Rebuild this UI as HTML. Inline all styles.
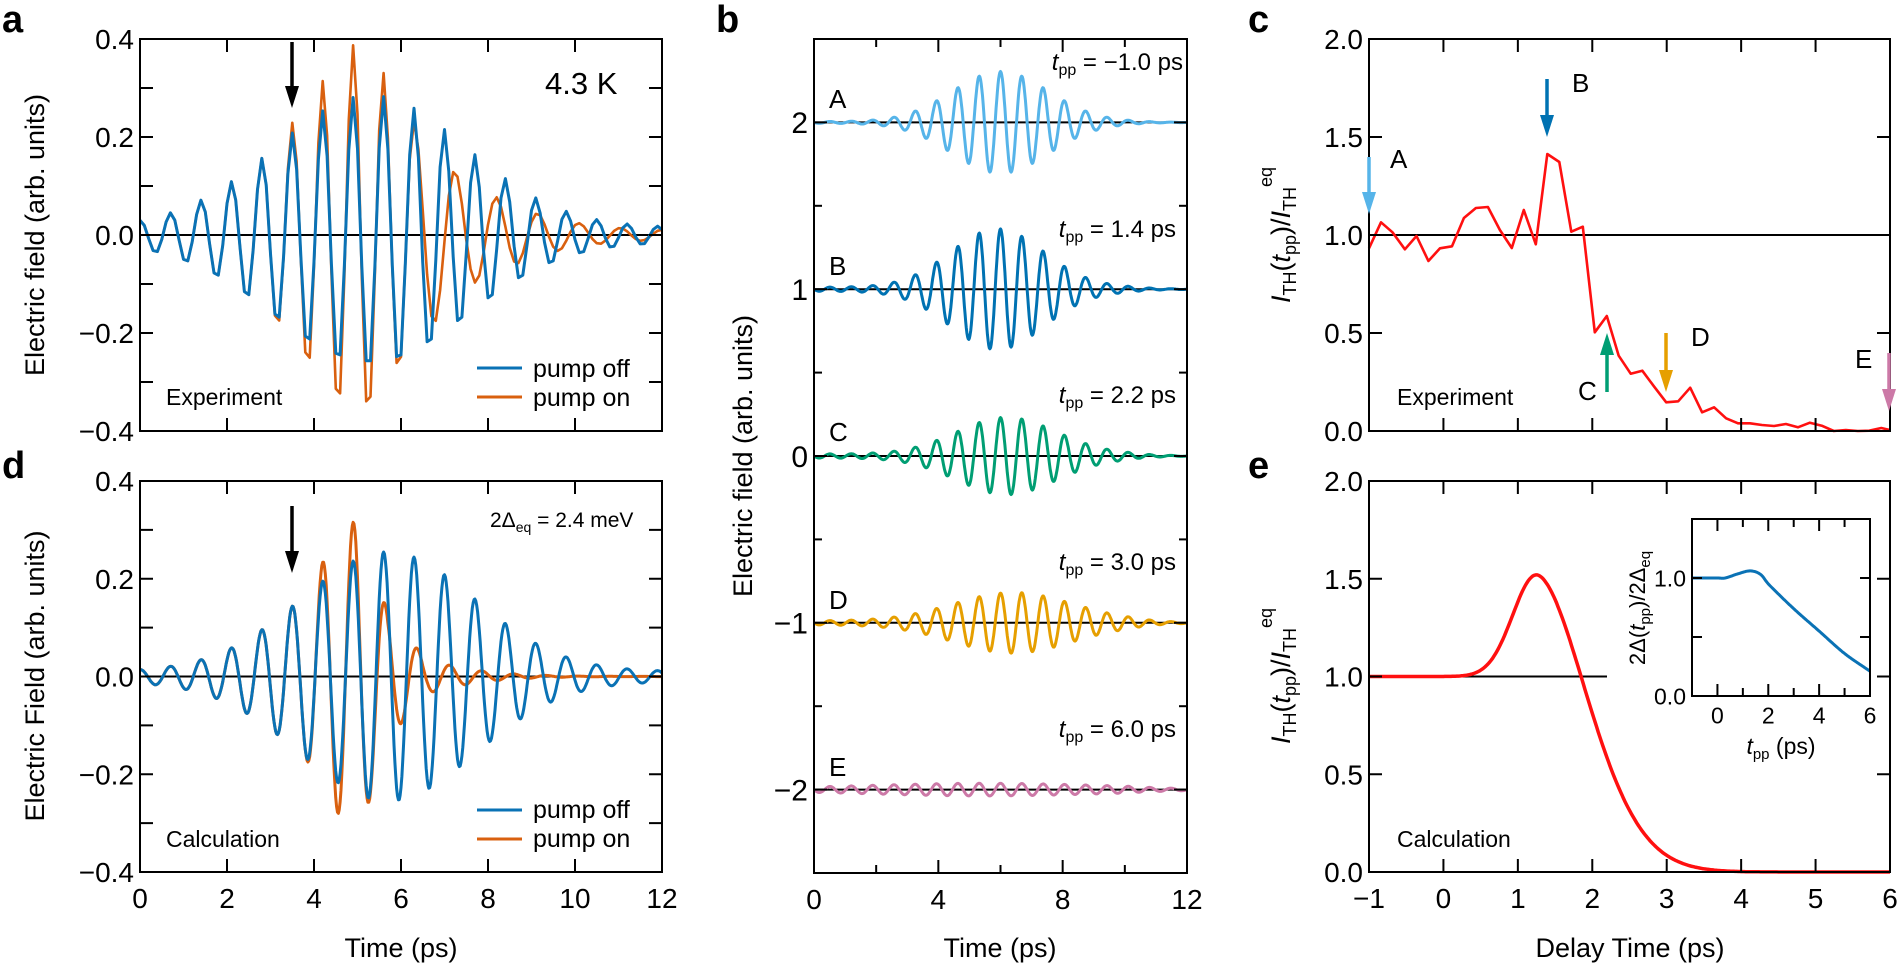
<!DOCTYPE html>
<html><head><meta charset="utf-8">
<style>
html,body{margin:0;padding:0;background:#fff;}
svg{display:block;font-family:"Liberation Sans",Arial,sans-serif;}
</style></head>
<body>
<svg id="s" width="1898" height="967" viewBox="0 0 1898 967" xmlns="http://www.w3.org/2000/svg">
<rect width="1898" height="967" fill="#fff"/>
<g font-weight="bold" font-size="38">
<text x="2" y="32">a</text><text x="716" y="32">b</text><text x="1248" y="32">c</text>
<text x="2" y="478">d</text><text x="1248" y="478">e</text>
</g>
<g font-size="27" text-anchor="middle">
<text transform="translate(44,235) rotate(-90)">Electric field (arb. units)</text>
<text transform="translate(44,676) rotate(-90)">Electric Field (arb. units)</text>
<text transform="translate(752,456) rotate(-90)">Electric field (arb. units)</text>
<text x="401" y="957">Time (ps)</text>
<text x="1000" y="957">Time (ps)</text>
<text x="1630" y="957">Delay Time (ps)</text>
<text transform="translate(1290,235) rotate(-90)"><tspan font-style="italic">I</tspan><tspan font-size="18" dy="6">TH</tspan><tspan dy="-6">(</tspan><tspan font-style="italic">t</tspan><tspan font-size="18" dy="6">pp</tspan><tspan dy="-6">)/</tspan><tspan font-style="italic">I</tspan><tspan font-size="18" dy="6">TH</tspan><tspan font-size="18" dy="-24">eq</tspan></text>
<text transform="translate(1290,676) rotate(-90)"><tspan font-style="italic">I</tspan><tspan font-size="18" dy="6">TH</tspan><tspan dy="-6">(</tspan><tspan font-style="italic">t</tspan><tspan font-size="18" dy="6">pp</tspan><tspan dy="-6">)/</tspan><tspan font-style="italic">I</tspan><tspan font-size="18" dy="6">TH</tspan><tspan font-size="18" dy="-24">eq</tspan></text>
<text transform="translate(1645,608) rotate(-90)" font-size="22">2Δ(<tspan font-style="italic">t</tspan><tspan font-size="15" dy="5">pp</tspan><tspan dy="-5">)/2Δ</tspan><tspan font-size="15" dy="5">eq</tspan></text>
<text x="1781" y="754" font-size="23"><tspan font-style="italic">t</tspan><tspan font-size="15" dy="5">pp</tspan><tspan dy="-5"> (ps)</tspan></text>
</g>
<g font-size="23">
<text x="166" y="405">Experiment</text>
<text x="166" y="847">Calculation</text>
<text x="1397" y="405">Experiment</text>
<text x="1397" y="847">Calculation</text>
<text x="545" y="94" font-size="31">4.3 K</text>
<text x="490" y="527" font-size="21">2Δ<tspan font-size="14" dy="5">eq</tspan><tspan dy="-5"> = 2.4 meV</tspan></text>
<text x="533" y="377" font-size="25">pump off</text>
<text x="533" y="406" font-size="25">pump on</text>
<text x="533" y="818" font-size="25">pump off</text>
<text x="533" y="847" font-size="25">pump on</text>
</g>
<g font-size="26">
<text x="829" y="108">A</text><text x="829" y="275">B</text><text x="829" y="441">C</text>
<text x="829" y="609">D</text><text x="829" y="776">E</text>
<g text-anchor="end" font-size="24">
<text x="1183" y="70"><tspan font-style="italic">t</tspan><tspan font-size="16" dy="5">pp</tspan><tspan dy="-5"> = −1.0 ps</tspan></text>
<text x="1176" y="237"><tspan font-style="italic">t</tspan><tspan font-size="16" dy="5">pp</tspan><tspan dy="-5"> = 1.4 ps</tspan></text>
<text x="1176" y="403"><tspan font-style="italic">t</tspan><tspan font-size="16" dy="5">pp</tspan><tspan dy="-5"> = 2.2 ps</tspan></text>
<text x="1176" y="570"><tspan font-style="italic">t</tspan><tspan font-size="16" dy="5">pp</tspan><tspan dy="-5"> = 3.0 ps</tspan></text>
<text x="1176" y="737"><tspan font-style="italic">t</tspan><tspan font-size="16" dy="5">pp</tspan><tspan dy="-5"> = 6.0 ps</tspan></text>
</g>
<text x="1390" y="168">A</text><text x="1572" y="92">B</text><text x="1578" y="400">C</text>
<text x="1691" y="346">D</text><text x="1855" y="368">E</text>
</g>
<g id="plots"></g>
</svg>
<script>
(function(){
var NS="http://www.w3.org/2000/svg",G=document.getElementById("plots");
function el(t,a,txt){var e=document.createElementNS(NS,t);for(var k in a)e.setAttribute(k,a[k]);if(txt!=null)e.textContent=txt;G.appendChild(e);return e;}
function ax(x0,y0,x1,y1,xa,xb,ya,yb){return{X:function(v){return x0+(v-xa)/(xb-xa)*(x1-x0)},Y:function(v){return y1-(v-ya)/(yb-ya)*(y1-y0)},x0:x0,x1:x1,y0:y0,y1:y1};}
function line(pts,c,w){var d="";for(var i=0;i<pts.length;i++)d+=(i?"L":"M")+pts[i][0].toFixed(1)+" "+pts[i][1].toFixed(1);el("path",{d:d,fill:"none",stroke:c,"stroke-width":w||3,"stroke-linejoin":"round"});}
function curve(A,f,a,b,dt,c,w){var p=[];for(var t=a;t<=b+1e-9;t+=dt)p.push([A.X(t),A.Y(f(t))]);line(p,c,w);}
function frame(A){el("rect",{x:A.x0,y:A.y0,width:A.x1-A.x0,height:A.y1-A.y0,fill:"none",stroke:"#000","stroke-width":2});}
function xt(A,v,len,lab,fs){var x=A.X(v);el("line",{x1:x,x2:x,y1:A.y1,y2:A.y1-len,stroke:"#000","stroke-width":2});el("line",{x1:x,x2:x,y1:A.y0,y2:A.y0+len,stroke:"#000","stroke-width":2});if(lab!=null)el("text",{x:x,y:A.y1+(fs?fs*1.2:36),"font-size":fs||28,"text-anchor":"middle"},lab);}
function yt(A,v,len,lab,fs){var y=A.Y(v);el("line",{x1:A.x0,x2:A.x0+len,y1:y,y2:y,stroke:"#000","stroke-width":2});el("line",{x1:A.x1,x2:A.x1-len,y1:y,y2:y,stroke:"#000","stroke-width":2});if(lab!=null)el("text",{x:A.x0-6,y:y+(fs?fs*0.36:10),"font-size":fs||28,"text-anchor":"end"},lab);}
function arrow(x,ya,yb,c,w){var dir=yb>ya?1:-1;el("line",{x1:x,x2:x,y1:ya,y2:yb-dir*18,stroke:c,"stroke-width":w||3});el("polygon",{points:(x-7)+","+(yb-dir*22)+" "+(x+7)+","+(yb-dir*22)+" "+x+","+yb,fill:c});}
var BL="#0a72b5",OR="#d9600f";
function gs(t,c,s){return Math.exp(-0.5*Math.pow((t-c)/s,2));}
var a=ax(140,39,662,431,0,12,-0.4,0.4);
el("line",{x1:a.x0,x2:a.x1,y1:a.Y(0),y2:a.Y(0),stroke:"#000","stroke-width":2});
function envA(t){return 0.27*gs(t,5.3,2.2)+0.015;}
function phB(t){return 2*Math.PI*(t-3.5)/0.7;}
function mOn(t){if(t<3)return 1;if(t<5)return 1+0.4*(t-3)/2;if(t<6.3)return 1.4-0.5*(t-5)/1.3;if(t<7.5)return 0.9-0.3*(t-6.3)/1.2;return 0.6;}
function phO(t){return 2*Math.PI*((Math.min(t,6.3)-3.5)/0.7+Math.max(0,t-6.3)/0.95);}
curve(a,function(t){return envA(t)*mOn(t)*Math.cos(phO(t))},0,12,0.1,OR,2.6);
curve(a,function(t){return envA(t)*Math.cos(phB(t))},0,12,0.1,BL,3);
for(var v=0;v<=12;v+=2)xt(a,v,13,null);
for(var v=-0.4;v<=0.41;v+=0.1){var r=Math.round(v*10);yt(a,v,13,r%2==0?(r<0?"−":"")+Math.abs(v).toFixed(1):null);}
frame(a);
arrow(292,42,108,"#000",3.5);
el("line",{x1:477,x2:522,y1:368,y2:368,stroke:BL,"stroke-width":3});
el("line",{x1:477,x2:522,y1:397,y2:397,stroke:OR,"stroke-width":3});
var d=ax(140,481,662,872,0,12,-0.4,0.4);
el("line",{x1:d.x0,x2:d.x1,y1:d.Y(0),y2:d.Y(0),stroke:"#000","stroke-width":2});
function envD(t){return 0.245*gs(t,5.7,2.0)+0.01;}
function phD(t){return 2*Math.PI*(t-3.5)/0.7;}
function mD(t){if(t<3.8)return 1;if(t<4.3)return 1+0.25*(t-3.8)/0.5;if(t<5.0)return 1.25+0.1*(t-4.3)/0.7;if(t<5.7)return 1.35-0.85*(t-5)/0.7;if(t<6.6)return 0.5-0.35*(t-5.7)/0.9;return 0.15*Math.exp(-(t-6.6)/2);}
curve(d,function(t){return envD(t)*mD(t)*Math.cos(phD(t)-(t>5?0.5*(t-5):0))},0,12,0.02,OR,3);
curve(d,function(t){return envD(t)*Math.cos(phD(t))},0,12,0.02,BL,3);
for(var v=0;v<=12;v+=2)xt(d,v,13,""+v);
for(var v=-0.4;v<=0.41;v+=0.1){var r=Math.round(v*10);yt(d,v,13,r%2==0?(r<0?"−":"")+Math.abs(v).toFixed(1):null);}
frame(d);
arrow(292,506,573,"#000",3.5);
el("line",{x1:477,x2:522,y1:810,y2:810,stroke:BL,"stroke-width":3});
el("line",{x1:477,x2:522,y1:839,y2:839,stroke:OR,"stroke-width":3});
var b=ax(814,39,1187,873,0,12,-2.5,2.5);
var T=0.686;
var tr=[[2,0.3,6.0,1.55,"#56B4E9",0.005],[1,0.35,5.9,1.5,"#0072B2",0.012],[0,0.22,6.2,1.6,"#009E73",0.012],[-1,0.17,6.4,1.9,"#E69F00",0.012],[-2,0.03,5.5,3.5,"#CC79A7",0.008]];
tr.forEach(function(q){el("line",{x1:b.x0,x2:b.x1,y1:b.Y(q[0]),y2:b.Y(q[0]),stroke:"#000","stroke-width":2});
curve(b,function(t){return q[0]+(q[1]*gs(t,q[2],q[3])+q[5]*(t<10?1:Math.exp(-(t-10))))*Math.cos(2*Math.PI*(t-6)/T)},0,12,0.02,q[4],3);});
for(var v=0;v<=12;v+=2)xt(b,v,v%4==0?13:8,v%4==0?""+v:null);
for(var v=-2.5;v<=2.5;v+=0.5){yt(b,v,Math.abs(v%1)<1e-6?13:8,(Math.abs(v%1)<1e-6&&Math.abs(v)<2.5)?(v<0?"−":"")+Math.abs(v):null,30);}
frame(b);
var c=ax(1369,39,1890,431,-1,6,0,2);
el("line",{x1:c.x0,x2:c.x1,y1:c.Y(1),y2:c.Y(1),stroke:"#000","stroke-width":2});
var zp=[[288,745],[317,667],[345,697],[375,748],[403,708],[432,783],[460,745],[489,739],[518,654],[547,624],[576,621],[605,690],[634,744],[663,630],[692,733],[720,462],[749,486],[778,695],[806,680],[835,997],[864,948],[893,1067],[922,1121],[950,1112],[979,1160],[1008,1207],[1037,1204],[1066,1163],[1095,1237],[1124,1222],[1153,1255],[1182,1270],[1211,1270],[1240,1275],[1269,1278],[1298,1272],[1327,1282],[1356,1268],[1385,1277],[1414,1296],[1443,1290],[1472,1298],[1500,1292],[1529,1284],[1550,1290]];
line(zp.map(function(p){return[1369+(p[0]-288)/2.4225,Math.min(p[1]/3,431)]}),"#ff1010",2.6);
for(var v=-1;v<=6;v++)xt(c,v,13,null);
for(var v=0;v<=2;v+=0.5)yt(c,v,13,v.toFixed(1));
frame(c);
arrow(1369,157,214,"#56B4E9",3.5);
arrow(1547,79,137,"#0072B2",3.5);
arrow(1607,392,333,"#009E73",3.5);
arrow(1666,333,392,"#E69F00",3.5);
arrow(1889,353,411,"#CC79A7",3.5);
var e=ax(1369,481,1890,872,-1,6,0,2);
el("line",{x1:e.x0,x2:1607,y1:e.Y(1),y2:e.Y(1),stroke:"#000","stroke-width":2});
curve(e,function(t){if(t<1.25)return 1+0.52*Math.exp(-Math.pow((t-1.25)/0.45,2));return 1.52*Math.exp(-Math.pow((t-1.25)/0.972,1.8));},-1,6,0.02,"#ff1010",3.5);
for(var v=-1;v<=6;v++)xt(e,v,13,v<0?"−1":""+v);
for(var v=0;v<=2;v+=0.5)yt(e,v,13,v.toFixed(1));
frame(e);
var n=ax(1692,519,1870,696,-1,6,0,1.5);
el("rect",{x:1692,y:519,width:178,height:177,fill:"#fff"});
var ip=[[-1,1],[0,1],[0.3,1.0],[0.8,1.035],[1.3,1.06],[1.7,1.03],[2,0.95],[3,0.74],[4,0.55],[5,0.36],[6,0.21]];
function cr(t){for(var i=0;i<ip.length-1;i++)if(t<=ip[i+1][0]){var p0=ip[Math.max(0,i-1)],p1=ip[i],p2=ip[i+1],p3=ip[Math.min(ip.length-1,i+2)];var u=(t-p1[0])/(p2[0]-p1[0]);var m1=(p2[1]-p0[1])/(p2[0]-p0[0]||1)*(p2[0]-p1[0]),m2=(p3[1]-p1[1])/(p3[0]-p1[0]||1)*(p2[0]-p1[0]);var h00=2*u*u*u-3*u*u+1,h10=u*u*u-2*u*u+u,h01=-2*u*u*u+3*u*u,h11=u*u*u-u*u;return h00*p1[1]+h10*m1+h01*p2[1]+h11*m2;}return ip[ip.length-1][1];}
el("line",{x1:n.x0,x2:n.X(-0.2),y1:n.Y(1),y2:n.Y(1),stroke:"#000","stroke-width":2});
curve(n,cr,-1,6,0.02,"#0a72b5",3);
for(var v=-1;v<=6;v++)xt(n,v,v%2==0?12:8,v%2==0&&v>=0?""+v:null,23);
for(var v=0;v<=1.5;v+=0.5)yt(n,v,10,(v==0||v==1)?v.toFixed(1):null,23);
frame(n);
})();
</script>
</body></html>
